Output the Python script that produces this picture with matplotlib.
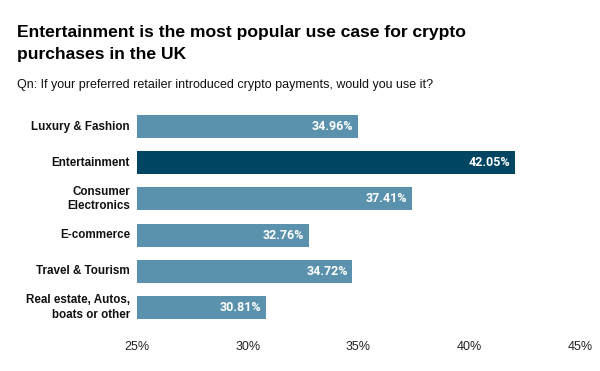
import matplotlib.pyplot as plt

categories = ['Luxury & Fashion', 'Entertainment', 'Consumer\nElectronics',
              'E-commerce', 'Travel & Tourism', 'Real estate, Autos,\nboats or other']
values = [34.96, 42.05, 37.41, 32.76, 34.72, 30.81]
highlight = 'Entertainment'
xticks = [25, 30, 35, 40, 45]

light = '#5a92ae'
dark = '#004663'

fig = plt.figure(figsize=(6, 3.71), dpi=100)
ax = fig.add_axes([0.2283, 0.1224, 0.7384, 0.5854])

ypos = list(range(len(categories)))
colors = [dark if c == highlight else light for c in categories]
ax.barh(ypos, [v - 25 for v in values], left=25, height=0.64, color=colors)

# value labels inside bar ends
for y, v in zip(ypos, values):
    ax.text(v - 0.2, y, '{:.2f}%'.format(v), ha='right', va='center',
            color='white', fontsize=9, fontweight='bold', family='Roboto')

# category labels drawn as text so multi-line ones stay right aligned
for y, c in zip(ypos, categories):
    ax.annotate(c, (25, y), xytext=(-7, 0), textcoords='offset pixels',
                ha='right', va='center', multialignment='right',
                fontsize=8.4, fontweight='bold', family='Liberation Sans',
                color='#111111', linespacing=1.25)

ax.set_xlim(25, 45)
ax.set_ylim(len(categories) - 0.5, -0.5)
ax.set_yticks([])
ax.set_xticks(xticks)
ax.set_xticklabels(['{}%'.format(t) for t in xticks], fontsize=9,
                   family='Liberation Sans', color='#222222')
ax.tick_params(axis='both', length=0)
ax.tick_params(axis='x', pad=11)
for s in ax.spines.values():
    s.set_visible(False)

fig.text(0.028, 0.932, 'Entertainment is the most popular use case for crypto\npurchases in the UK',
         fontsize=12.6, fontweight='bold', family='Liberation Sans',
         va='top', ha='left', linespacing=1.55)
fig.text(0.028, 0.763, 'Qn: If your preferred retailer introduced crypto payments, would you use it?',
         fontsize=9, family='Liberation Sans', va='baseline', ha='left', color='#111111')

fig.savefig('out.png', dpi=100)
